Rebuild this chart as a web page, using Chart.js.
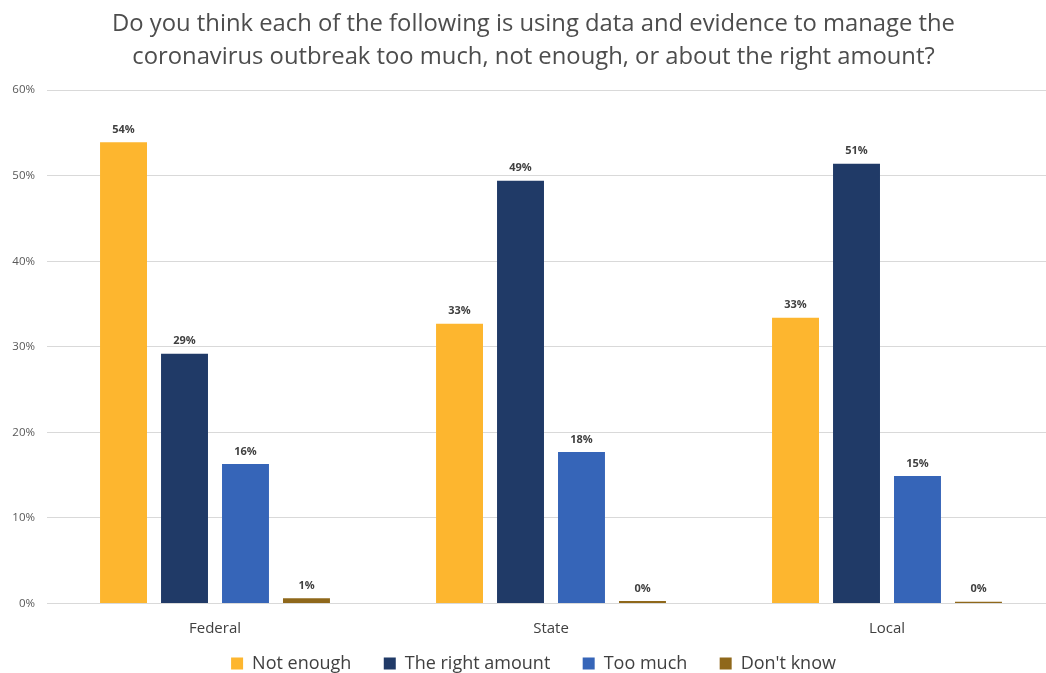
<!DOCTYPE html>
<html>
<head>
<meta charset="utf-8">
<script src="https://cdn.jsdelivr.net/npm/chart.js@4/dist/chart.umd.min.js"></script>
<style>
  html, body { margin: 0; padding: 0; background: #fff; overflow: hidden; }
  #wrap { width: 1055px; height: 673px; }
</style>
</head>
<body>
<div id="wrap"><canvas id="chart"></canvas></div>
<script>
const categories = ["Federal", "State", "Local"];
const notEnough = [53.9, 32.7, 33.4];
const rightAmount = [29.2, 49.4, 51.4];
const tooMuch = [16.3, 17.7, 14.9];
const dontKnow = [0.6, 0.3, 0.2];
const yTicks = [0, 10, 20, 30, 40, 50, 60];

// value labels above each bar
const barLabels = {
  id: 'barLabels',
  afterDatasetsDraw(chart) {
    const ctx = chart.ctx;
    ctx.save();
    ctx.font = 'bold 11px "Open Sans", sans-serif';
    ctx.fillStyle = '#404040';
    ctx.textAlign = 'center';
    ctx.textBaseline = 'bottom';
    chart.data.datasets.forEach((ds, i) => {
      chart.getDatasetMeta(i).data.forEach((bar, j) => {
        ctx.fillText(Math.round(ds.data[j]) + '%', bar.x, bar.y - 7);
      });
    });
    ctx.restore();
  }
};

new Chart(document.getElementById('chart'), {
  type: 'bar',
  data: {
    labels: categories,
    datasets: [
      { label: 'Not enough', data: notEnough, backgroundColor: '#FDB62F' },
      { label: 'The right amount', data: rightAmount, backgroundColor: '#203A67' },
      { label: 'Too much', data: tooMuch, backgroundColor: '#3665B8' },
      { label: "Don't know", data: dontKnow, backgroundColor: '#8F681B' }
    ]
  },
  options: {
    responsive: true,
    maintainAspectRatio: false,
    animation: false,
    layout: { padding: { left: 12, right: 0, top: 0, bottom: -9.5 } },
    datasets: { bar: { barPercentage: 0.77, categoryPercentage: 0.726 } },
    scales: {
      x: {
        grid: { display: false },
        border: { color: '#d9d9d9' },
        ticks: { color: '#404040', font: { family: 'Open Sans', size: 15 }, padding: 8 }
      },
      y: {
        min: 0, max: 60,
        afterBuildTicks(axis) { axis.ticks = yTicks.map(v => ({ value: v })); },
        afterFit(axis) { axis.width = 35; },
        grid: { color: '#d9d9d9', drawTicks: false },
        border: { display: false },
        ticks: {
          color: '#595959', padding: 12,
          font: { family: 'Open Sans', size: 11.5 },
          callback: v => v + '%'
        }
      }
    },
    plugins: {
      title: {
        display: true,
        text: ['Do you think each of the following is using data and evidence to manage the',
               'coronavirus outbreak too much, not enough, or about the right amount?'],
        color: '#4d4d4d',
        font: { family: 'Open Sans', size: 23.8, weight: 'normal', lineHeight: 1.39 },
        padding: { top: 8, bottom: 16 }
      },
      legend: {
        position: 'bottom',
        labels: {
          color: '#404040',
          font: { family: 'Open Sans', size: 18 },
          boxWidth: 12, boxHeight: 12, padding: 9,
          // widen the gap between entries without adding vertical room
          generateLabels(chart) {
            const items = Chart.defaults.plugins.legend.labels.generateLabels(chart);
            return items.map((it, i) => {
              if (i < items.length - 1) it.text += '     ';
              return it;
            });
          }
        }
      },
      tooltip: { enabled: false }
    }
  },
  plugins: [barLabels]
});
</script>
</body>
</html>
